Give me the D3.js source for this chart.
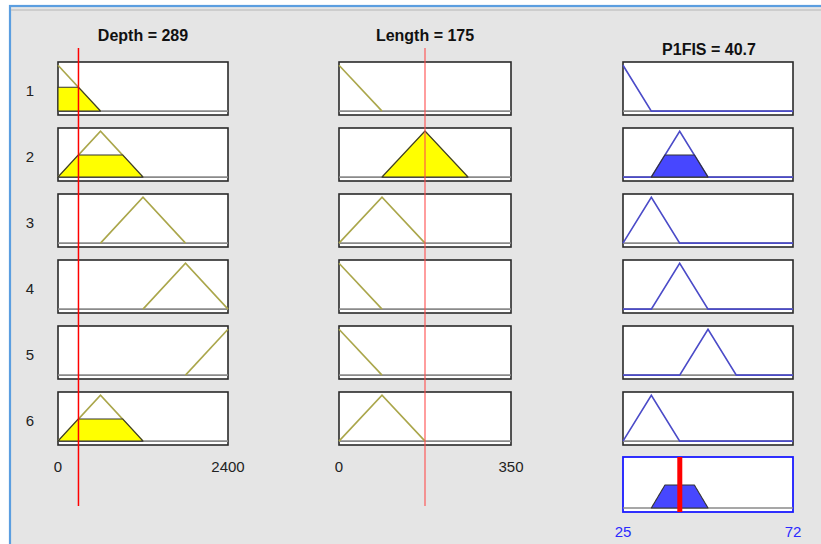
<!DOCTYPE html>
<html><head><meta charset="utf-8">
<script src="https://cdn.jsdelivr.net/npm/d3@7"></script>
<style>html,body{margin:0;padding:0;background:#fff}svg{display:block}</style>
</head><body><svg id="chart" width="821" height="544"></svg>
<script>
// Fuzzy inference system: two inputs, one output, six rules
const inputNames = ["Depth", "Length"];
const inputValues = [289, 175];
const inputRanges = [[0, 2400], [0, 350]];
const outputName = "P1FIS";
const outputValue = 40.7;
const outputRange = [25, 72];
const ruleLabels = ["1", "2", "3", "4", "5", "6"];

// Triangular membership functions [a, b, c] used by each rule
const depthMF = [[-600, 0, 600], [0, 600, 1200], [600, 1200, 1800], [1200, 1800, 2400], [1800, 2400, 3000], [0, 600, 1200]];
const lengthMF = [[-87.5, 0, 87.5], [87.5, 175, 262.5], [0, 87.5, 175], [-87.5, 0, 87.5], [-87.5, 0, 87.5], [0, 87.5, 175]];
const outputMF = [[17.17, 25, 32.83], [32.83, 40.67, 48.5], [25, 32.83, 40.67], [32.83, 40.67, 48.5], [40.67, 48.5, 56.33], [25, 32.83, 40.67]];
const inputMFs = [depthMF, lengthMF];

const FONT = "'Liberation Sans', Arial, Helvetica, sans-serif";
const svg = d3.select("#chart");

// window frame
svg.append("rect").attr("x", 10).attr("y", 6).attr("width", 830).attr("height", 560)
  .attr("fill", "#e5e5e5").attr("stroke", "#5b9ee0").attr("stroke-width", 2.2);
svg.append("line").attr("x1", 11).attr("x2", 821).attr("y1", 10).attr("y2", 10)
  .attr("stroke", "#c4c4c4").attr("stroke-width", 1.5);

function trimf(x, [a, b, c]) {
  const l = a === b ? (x >= a ? 1 : 0) : (x - a) / (b - a);
  const r = b === c ? (x <= c ? 1 : 0) : (c - x) / (c - b);
  return Math.max(0, Math.min(l, r));
}

// rule firing strengths (AND = min)
const strengths = ruleLabels.map((_, i) =>
  d3.min(inputMFs.map((mfs, k) => trimf(inputValues[k], mfs[i]))));

const colX = [[58, 228], [339, 511], [623, 793]];
const rowTop0 = 62, rowStep = 66, rowH = 53;
const yDom = [-0.085, 1.07];

function uniqSorted(arr) { return Array.from(new Set(arr.map(v => +v.toFixed(6)))).sort((p, q) => p - q); }

function panel(g, x, y, mf, deg, opt) {
  const [lo, hi] = x.domain();
  g.append("rect").attr("x", x.range()[0]).attr("y", y.range()[1])
    .attr("width", x.range()[1] - x.range()[0]).attr("height", y.range()[0] - y.range()[1])
    .attr("fill", "#fff").attr("stroke", opt.border || "#2a2a2a").attr("stroke-width", opt.borderW || 1.6);
  g.append("line").attr("x1", x.range()[0]).attr("x2", x.range()[1])
    .attr("y1", y(0)).attr("y2", y(0)).attr("stroke", "#8a8a8a").attr("stroke-width", 1.6);
  if (!mf) return;
  const [a, b, c] = mf;
  const line = d3.line().x(d => x(d[0])).y(d => y(d[1]));
  // membership curve
  let from = opt.full ? lo : Math.max(a, lo), to = opt.full ? hi : Math.min(c, hi);
  let xs = uniqSorted([from, to, a, b, c].filter(v => v >= from && v <= to));
  g.append("path").attr("d", line(xs.map(v => [v, trimf(v, mf)])))
    .attr("fill", "none").attr("stroke", opt.color).attr("stroke-width", 1.6);
  // clipped area for the rule's degree
  if (deg > 0) {
    const f0 = Math.max(a, lo), f1 = Math.min(c, hi);
    const cand = [f0, f1, a, b, c, a + (b - a) * deg, c - (c - b) * deg].filter(v => v >= f0 && v <= f1);
    const pts = uniqSorted(cand).map(v => [v, Math.min(trimf(v, mf), deg)]);
    pts.unshift([f0, 0]); pts.push([f1, 0]);
    g.append("path").attr("d", line(pts) + "Z")
      .attr("fill", opt.fill).attr("stroke", "#333").attr("stroke-width", 1.1).attr("stroke-linejoin", "round");
  }
}

// titles
const titleY = [41, 41, 55];
[inputNames[0] + " = " + inputValues[0], inputNames[1] + " = " + inputValues[1], outputName + " = " + outputValue]
  .forEach((t, j) => {
    svg.append("text").attr("x", (colX[j][0] + colX[j][1]) / 2 + (j === 2 ? 1 : 0)).attr("y", titleY[j])
      .attr("text-anchor", "middle").attr("font-family", FONT).attr("font-weight", "bold")
      .attr("font-size", 16).attr("fill", "#111").text(t);
  });

const xScales = [
  d3.scaleLinear().domain(inputRanges[0]).range(colX[0]),
  d3.scaleLinear().domain(inputRanges[1]).range(colX[1]),
  d3.scaleLinear().domain(outputRange).range(colX[2])
];

ruleLabels.forEach((lab, i) => {
  const top = rowTop0 + i * rowStep;
  const y = d3.scaleLinear().domain(yDom).range([top + rowH, top]);
  svg.append("text").attr("x", 30).attr("y", top + rowH / 2 + 7).attr("text-anchor", "middle")
    .attr("font-family", FONT).attr("font-size", 15).attr("fill", "#222").text(lab);
  for (let k = 0; k < 2; k++) {
    const mf = inputMFs[k][i];
    panel(svg.append("g"), xScales[k], y, mf, trimf(inputValues[k], mf),
      { color: "#aaa64a", fill: "#ffff00" });
  }
  panel(svg.append("g"), xScales[2], y, outputMF[i], strengths[i],
    { color: "#4b4bc8", fill: "#4747ff", full: true });
});

// aggregated output
const aggTop = 457, aggH = 55;
const yAgg = d3.scaleLinear().domain(yDom).range([aggTop + aggH, aggTop]);
const gAgg = svg.append("g");
panel(gAgg, xScales[2], yAgg, null, 0, { border: "#1a1aff", borderW: 1.8 });
{
  const [lo, hi] = outputRange;
  let xs = d3.range(0, 401).map(i => lo + (hi - lo) * i / 400);
  outputMF.forEach((mf, i) => { if (strengths[i] > 0) xs.push(...mf, mf[0] + (mf[1] - mf[0]) * strengths[i], mf[2] - (mf[2] - mf[1]) * strengths[i]); });
  xs = uniqSorted(xs.filter(v => v >= lo && v <= hi));
  const agg = xs.map(v => [v, d3.max(outputMF.map((mf, i) => Math.min(trimf(v, mf), strengths[i])))]);
  const nz = agg.filter(d => d[1] > 1e-9);
  const first = agg.findIndex(d => d[1] > 1e-9), last = agg.length - 1 - [...agg].reverse().findIndex(d => d[1] > 1e-9);
  const pts = agg.slice(Math.max(0, first - 1), Math.min(agg.length, last + 2));
  if (nz.length) {
    gAgg.append("path").attr("d", d3.line().x(d => xScales[2](d[0])).y(d => yAgg(d[1]))(pts) + "Z")
      .attr("fill", "#4747ff").attr("stroke", "#333").attr("stroke-width", 1.1).attr("stroke-linejoin", "round");
  }
  gAgg.append("line").attr("x1", xScales[2](outputValue)).attr("x2", xScales[2](outputValue))
    .attr("y1", aggTop).attr("y2", aggTop + aggH).attr("stroke", "#ff0000").attr("stroke-width", 5);
}

// input value indicators
[0, 1].forEach(k => {
  const xv = xScales[k](inputValues[k]);
  svg.append("line").attr("x1", xv).attr("x2", xv).attr("y1", 48).attr("y2", 506)
    .attr("stroke", k === 0 ? "#ff0000" : "#ff4d4d").attr("stroke-width", k === 0 ? 1.5 : 1.1);
});

// range labels
[0, 1].forEach(k => {
  xScales[k].domain().forEach((v, e) => {
    svg.append("text").attr("x", xScales[k](v)).attr("y", 472).attr("text-anchor", "middle")
      .attr("font-family", FONT).attr("font-size", 15).attr("fill", "#222").text(v);
  });
});
outputRange.forEach(v => {
  svg.append("text").attr("x", xScales[2](v)).attr("y", 537).attr("text-anchor", "middle")
    .attr("font-family", FONT).attr("font-size", 15).attr("fill", "#2a2aff").text(v);
});
</script></body></html>
